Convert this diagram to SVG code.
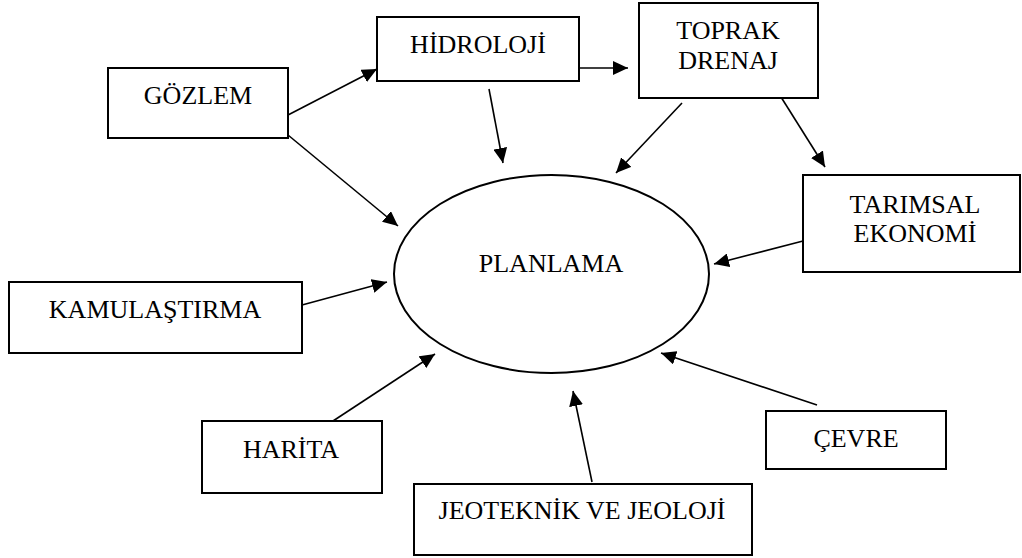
<svg xmlns="http://www.w3.org/2000/svg" width="1022" height="558" viewBox="0 0 1022 558">
<style>
.box{fill:#fff;stroke:#000;stroke-width:2}
.ell{fill:#fff;stroke:#000;stroke-width:2}
.lbl{font-family:"Liberation Serif","Times New Roman",serif;font-size:26px;fill:#000;text-anchor:middle}
.con{stroke:#000;stroke-width:1.6;fill:none;marker-end:url(#ah)}
</style>
<defs>
<marker id="ah" markerUnits="userSpaceOnUse" markerWidth="16" markerHeight="14" refX="15" refY="7" orient="auto">
<path d="M0,0 L15,7 L0,14 z" fill="#000"/>
</marker>
</defs>
<rect width="1022" height="558" fill="#fff"/>
<g id="connectors">
<line class="con" x1="288" y1="115" x2="377" y2="69"/>
<line class="con" x1="288" y1="135" x2="398" y2="226"/>
<line class="con" x1="579" y1="68" x2="628" y2="68"/>
<line class="con" x1="489" y1="89" x2="503" y2="163"/>
<line class="con" x1="682" y1="103" x2="616" y2="173"/>
<line class="con" x1="781" y1="97" x2="825" y2="167"/>
<line class="con" x1="803" y1="241" x2="714" y2="264"/>
<line class="con" x1="302" y1="305" x2="387" y2="282"/>
<line class="con" x1="333" y1="421" x2="435" y2="354"/>
<line class="con" x1="592" y1="482" x2="573" y2="391"/>
<line class="con" x1="817" y1="405" x2="661" y2="353"/>
</g>
<g id="planlama">
<ellipse class="ell" cx="551.5" cy="274" rx="157.5" ry="99"/>
<text class="lbl" x="551" y="272">PLANLAMA</text>
</g>
<g id="gozlem">
<rect class="box" x="108" y="68" width="180" height="70"/>
<text class="lbl" x="198" y="104">GÖZLEM</text>
</g>
<g id="hidroloji">
<rect class="box" x="377" y="17" width="202" height="64"/>
<text class="lbl" x="478" y="53">HİDROLOJİ</text>
</g>
<g id="toprak-drenaj">
<rect class="box" x="639" y="3" width="179" height="95"/>
<text class="lbl" x="728" y="39">TOPRAK</text>
<text class="lbl" x="728" y="69">DRENAJ</text>
</g>
<g id="tarimsal-ekonomi">
<rect class="box" x="803" y="175" width="217" height="97"/>
<text class="lbl" x="915" y="213">TARIMSAL</text>
<text class="lbl" x="915" y="242">EKONOMİ</text>
</g>
<g id="kamulastirma">
<rect class="box" x="9" y="282" width="293" height="71"/>
<text class="lbl" x="155" y="318">KAMULAŞTIRMA</text>
</g>
<g id="harita">
<rect class="box" x="202" y="421" width="180" height="72"/>
<text class="lbl" x="291" y="458">HARİTA</text>
</g>
<g id="jeoteknik">
<rect class="box" x="414" y="484" width="338" height="71"/>
<text class="lbl" x="582" y="519">JEOTEKNİK VE JEOLOJİ</text>
</g>
<g id="cevre">
<rect class="box" x="766" y="411" width="180" height="58"/>
<text class="lbl" x="856" y="447">ÇEVRE</text>
</g>
</svg>
